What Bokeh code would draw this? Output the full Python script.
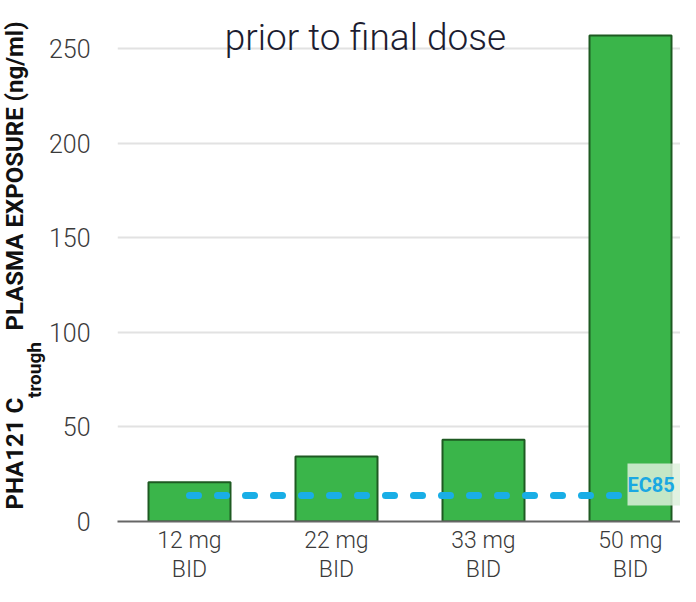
from bokeh.plotting import figure
from bokeh.models import Range1d, FixedTicker, Label, ColumnDataSource, Title
from bokeh.embed import file_html
from bokeh.resources import INLINE

# ---- data ----
doses = ["12 mg\nBID", "22 mg\nBID", "33 mg\nBID", "50 mg\nBID"]
ctrough = [20.8, 34.4, 43.2, 256.9]
ec85 = 13.7
y_ticks = [0, 50, 100, 150, 200, 250]
title_text = "prior to final dose"
ylab_main = "PHA121 C"
ylab_sub = "trough"
ylab_rest = "PLASMA EXPOSURE (ng/ml)"
ec_label = "EC85"

xs = list(range(len(doses)))

PX = 147.0      # px per category
PY = 1.892      # px per unit
X0 = 189.0      # pixel of first category centre
Y0 = 521.0      # pixel of zero

def fx(px):
    return (px - X0) / PX

def fy(py):
    return (Y0 - py) / PY

p = figure(width=680, height=586, output_backend="svg", toolbar_location=None,
           x_range=Range1d(fx(117), fx(680)), y_range=Range1d(0, fy(0)),
           min_border_left=117, min_border_right=0, min_border_top=0,
           min_border_bottom=65)
p.outline_line_color = None

p.xgrid.visible = False
p.ygrid.ticker = FixedTicker(ticks=y_ticks)
p.ygrid.grid_line_color = "#e2e2e2"
p.ygrid.grid_line_width = 2

# y axis (tick labels + subscript part of the axis title)
p.yaxis.ticker = FixedTicker(ticks=y_ticks)
p.yaxis.axis_line_color = None
p.yaxis.major_tick_line_color = None
p.yaxis.major_tick_out = 0
p.yaxis.minor_tick_line_color = None
p.yaxis.major_label_standoff = 27
p.yaxis.major_label_text_font = "Roboto Light"
p.yaxis.major_label_text_font_size = "25px"
p.yaxis.major_label_text_color = "#3a3a3a"
p.yaxis.axis_label = ylab_sub + "\u2003" * 11 + "\u2005"
p.yaxis.axis_label_standoff = 0
p.yaxis.axis_label_text_font = "Roboto"
p.yaxis.axis_label_text_font_style = "bold"
p.yaxis.axis_label_text_font_size = "19px"
p.yaxis.axis_label_text_color = "#111111"

# main part of the axis title, outside the axis
p.add_layout(Title(text=ylab_main + "\u2003\u2003\u2002\u2005" + ylab_rest, align="left",
                   offset=12, standoff=-18, text_font="Roboto", text_font_style="bold",
                   text_font_size="24px", text_color="#111111"), "left")

# x axis
p.xaxis.ticker = FixedTicker(ticks=xs)
p.xaxis.major_label_overrides = {i: d for i, d in zip(xs, doses)}
p.xaxis.axis_line_color = "#666666"
p.xaxis.axis_line_width = 2
p.xaxis.major_tick_line_color = None
p.xaxis.major_tick_out = 0
p.xaxis.minor_tick_line_color = None
p.xaxis.major_label_standoff = 5
p.xaxis.major_label_text_font = "Roboto Light"
p.xaxis.major_label_text_font_size = "23px"
p.xaxis.major_label_text_color = "#3a3a3a"
p.xaxis.major_label_text_line_height = 1.1

src = ColumnDataSource(dict(x=xs, top=ctrough))
p.vbar(x="x", top="top", bottom=0, width=82 / PX, source=src,
       fill_color="#3AB54A", line_color="#1E5A22", line_width=2)

p.line(x=[xs[0], xs[-1]], y=[ec85, ec85], line_color="#19AEE6", line_width=7,
       line_dash="9 19", line_cap="round")

p.quad(left=[fx(627)], right=[fx(720)], bottom=[fy(505)], top=[fy(463)],
       fill_color="#DDF0DC", fill_alpha=0.85, line_color=None)
p.add_layout(Label(x=fx(627), y=fy(484), text=ec_label, text_font="Roboto",
                   text_font_style="bold", text_font_size="20px",
                   text_color="#1AA8E2", text_baseline="middle", text_align="left"))

p.add_layout(Label(x=fx(365), y=fy(37), text=title_text, text_font="Roboto Light",
                   text_font_size="37px", text_color="#1c1c30",
                   text_align="center", text_baseline="alphabetic"))

open("out.html", "w").write(file_html(p, INLINE))
